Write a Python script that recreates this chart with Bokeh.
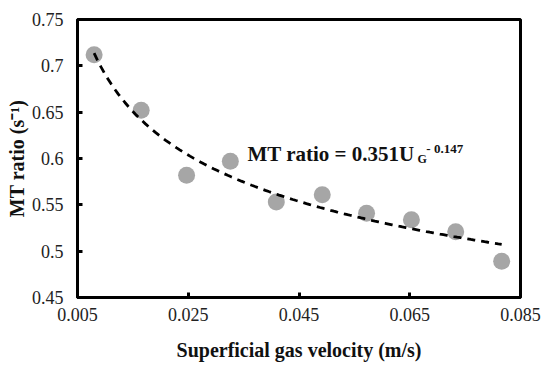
from bokeh.plotting import figure
from bokeh.models import Range1d, FixedTicker, NumeralTickFormatter, Label
from bokeh.embed import file_html
from bokeh.resources import INLINE
import numpy as np

# Data
ug = [0.0080, 0.0165, 0.0247, 0.0326, 0.0409, 0.0492, 0.0572, 0.0653, 0.0733, 0.0816]
mt_ratio = [0.712, 0.652, 0.582, 0.597, 0.553, 0.561, 0.541, 0.534, 0.521, 0.489]

# Power-law fit shown on the chart: MT ratio = 0.351 * UG^-0.147
fit_coef = 0.351
fit_exp = -0.147

x_ticks = [0.005, 0.025, 0.045, 0.065, 0.085]
y_ticks = [0.45, 0.5, 0.55, 0.6, 0.65, 0.7, 0.75]

x_title = "Superficial gas velocity (m/s)"
y_title = "MT ratio (s\u207b\u00b9)"

FONT = "Liberation Serif"

p = figure(width=550, height=365, output_backend="svg", toolbar_location=None,
           x_range=Range1d(0.005, 0.085), y_range=Range1d(0.45, 0.75),
           min_border_left=77, min_border_right=30, min_border_top=19, min_border_bottom=68)
p.background_fill_color = "white"
p.border_fill_color = "white"
p.outline_line_color = "black"
p.outline_line_width = 3
p.xgrid.visible = False
p.ygrid.visible = False

for ax in (p.xaxis[0], p.yaxis[0]):
    ax.axis_line_color = "black"
    ax.axis_line_width = 3
    ax.major_tick_line_color = "black"
    ax.major_tick_line_width = 3
    ax.major_tick_in = 5
    ax.major_tick_out = 0
    ax.minor_tick_line_color = None
    ax.major_label_text_font = FONT
    ax.major_label_text_color = "#222222"
    ax.axis_label_text_font = FONT
    ax.axis_label_text_font_style = "bold"
    ax.axis_label_text_font_size = "20px"
    ax.axis_label_text_color = "#111111"
    ax.formatter = NumeralTickFormatter(format="0.[000]")

p.xaxis[0].ticker = FixedTicker(ticks=x_ticks)
p.yaxis[0].ticker = FixedTicker(ticks=y_ticks)
p.xaxis[0].major_label_text_font_size = "18px"
p.yaxis[0].major_label_text_font_size = "18px"
p.xaxis[0].major_label_standoff = 10
p.yaxis[0].major_label_standoff = 14
p.xaxis[0].axis_label = x_title
p.yaxis[0].axis_label = y_title
p.xaxis[0].axis_label_standoff = 15
p.yaxis[0].axis_label_standoff = 1

# data points
p.scatter(ug, mt_ratio, size=17, fill_color="#a6a6a6", line_color=None)

# trend line from the displayed equation
xs = np.linspace(min(ug), max(ug), 120)
p.line(xs, fit_coef * xs ** fit_exp, line_color="black", line_width=2.8, line_dash="8 6")

# equation annotation
p.add_layout(Label(x=0.0357, y=0.6045, text="MT ratio = 0.351U", text_font=FONT,
                   text_font_style="bold", text_font_size="21px", text_color="#111111",
                   text_baseline="alphabetic"))
p.add_layout(Label(x=0.0664, y=0.600, text="G", text_font=FONT,
                   text_font_style="bold", text_font_size="12px", text_color="#111111",
                   text_baseline="alphabetic"))
p.add_layout(Label(x=0.0680, y=0.6105, text="- 0.147", text_font=FONT,
                   text_font_style="bold", text_font_size="13px", text_color="#111111",
                   text_baseline="alphabetic"))

open("out.html", "w").write(file_html(p, INLINE))
